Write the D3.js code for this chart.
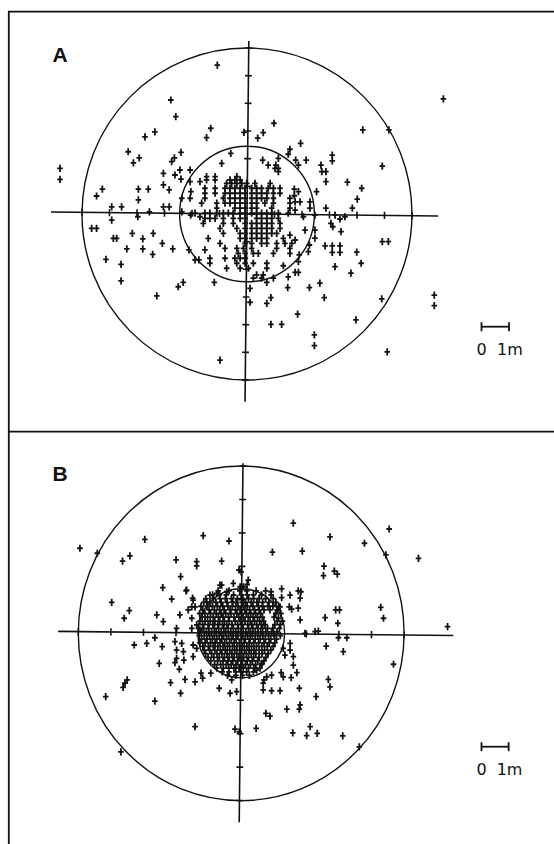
<!DOCTYPE html>
<html>
<head>
<meta charset="utf-8">
<script src="https://cdn.jsdelivr.net/npm/d3@7"></script>
<style>
  body { margin: 0; background: #fff; }
  svg { display: block; }
  .frame { stroke: #111; stroke-width: 1.8; fill: none; }
  .ring { fill: none; stroke: #111; stroke-width: 1.4; }
  .axis, .tick { stroke: #111; stroke-width: 1.6; }
  .pt { stroke: #111; stroke-width: 1.8; fill: none; }
  .bar { stroke: #111; stroke-width: 1.8; }
  .lbl { font-family: "Liberation Sans", Arial, sans-serif; font-weight: bold; font-size: 21px; fill: #111; }
  .scl { font-family: "DejaVu Sans", sans-serif; font-size: 16px; fill: #111; }
</style>
</head>
<body>
<svg id="chart" width="554" height="844"></svg>
<script>
// radii in metres
var outerRadius = 6
var innerRadiusA = 2.45
var innerRadiusB = 1.6

// tick positions along the two axes (m)
var ticksA = [-6, -5, -4, -3, -2, -1, 1, 2, 3, 4, 5, 6]
var ticksB = [-6, -4.8, -3.6, -2.4, -1.2, 1.2, 2.4, 3.6, 4.8, 6]

// A: individual positions [x, y] in metres
var pointsA = [
  [-1.08,5.38],[-2.77,4.12],[-2.59,3.52],[-3.71,2.79],[-3.35,2.97],[-1.32,3.10],[-1.47,2.76],[-0.11,2.95],
  [-4.32,2.25],[-4.13,1.85],[-3.92,2.03],[-6.80,1.65],[-6.80,1.25],[-5.47,0.65],[-5.26,0.90],[-4.92,0.26],
  [-4.56,0.26],[-3.95,0.90],[-3.59,0.90],[-3.95,0.51],[-4.92,-0.22],[-3.97,-0.10],[-3.55,0.08],[-3.04,1.47],
  [-2.74,1.89],[-2.64,2.03],[-2.40,2.23],[-2.62,1.41],[-2.44,1.59],[-2.07,1.59],[-2.40,1.26],[-3.04,1.05],
  [-2.83,0.87],[-2.07,1.17],[-2.04,0.81],[-2.37,0.57],[-2.07,0.57],[-3.04,0.26],[-2.83,0.26],[-2.37,0.08],
  [-2.05,-0.04],[-0.92,1.83],[-0.59,2.19],[-1.71,1.17],[-1.65,0.39],[-1.71,-0.10],[-1.89,0.03],[-1.59,-0.34],
  [7.14,4.16],[0.98,3.28],[0.39,2.74],[0.59,2.94],[1.95,2.55],[4.21,3.04],[5.16,3.04],[1.56,2.34],
  [1.50,2.16],[1.77,1.95],[1.87,1.77],[2.15,1.95],[3.10,2.13],[3.10,1.92],[2.69,1.77],[2.72,1.53],
  [2.87,1.53],[2.87,1.17],[3.65,1.15],[4.92,1.73],[4.17,0.93],[4.01,0.54],[3.83,0.21],[2.87,0.21],
  [2.53,0.81],[3.20,-0.04],[3.38,-0.18],[3.56,-0.10],[3.05,-0.34],[0.57,1.95],[0.77,1.77],[1.05,1.77],
  [1.14,2.01],[1.72,0.90],[1.87,0.81],[1.72,0.66],[1.75,0.44],[1.93,0.44],[1.75,0.14],[2.29,0.44],
  [2.29,0.21],[2.47,-0.04],[2.05,-0.10],
  [-5.65,-0.52],[-5.47,-0.52],[-4.86,-0.88],[-4.74,-0.88],[-4.17,-0.70],[-3.79,-0.90],[-3.41,-0.70],[-4.37,-1.26],
  [-3.79,-1.26],[-3.43,-1.46],[-3.08,-1.06],[-2.70,-1.26],[-5.13,-1.64],[-4.58,-1.82],[-4.58,-2.42],[-3.28,-2.96],
  [-2.50,-2.63],[-2.32,-2.47],[-2.11,-1.30],[-1.53,-1.30],[-1.89,-1.66],[-1.75,-1.66],[-1.19,-2.47],[-0.98,-5.28],
  [4.92,-1.00],[5.14,-1.00],[3.99,-1.38],[4.15,-1.78],[3.78,-2.14],[3.20,-1.90],[2.84,-1.15],[3.10,-1.15],
  [3.38,-1.15],[3.10,-1.39],[3.38,-1.39],[2.65,-2.50],[2.27,-2.66],[2.81,-3.02],[1.48,-2.66],[1.84,-3.62],
  [0.87,-3.99],[1.26,-3.99],[2.45,-4.37],[2.45,-4.76],[3.96,-3.83],[4.90,-3.07],[5.10,-4.98],[6.81,-2.93],
  [6.81,-3.31],[0.72,-3.23],[0.87,-3.02],[0.11,-3.19],[1.50,-2.27],[1.75,-2.11],[1.87,-2.11],[0.72,-2.47],
  [0.11,-2.69],[2.11,-0.58],[2.47,-0.58],[3.12,-0.46],[3.42,-0.64],[2.27,-1.12],[2.23,-1.36],[1.90,-1.48],
  [1.87,-1.72],[1.75,-0.94],[1.56,-0.76],[1.32,-1.87],[2.47,-0.87]
]

// A: dense centre, read row by row  [y, [x, x, ...]]
var gridA = [
  [1.65, [1.02, 1.14]],
  [1.53, [1.14]],
  [1.35, [-1.47, -1.16, -0.37]],
  [1.23, [-1.47, -1.16, -0.62, -0.44, -0.25]],
  [1.11, [-0.74, -0.56, -0.37, -0.19, -0.01, 0.29, 0.84]],
  [0.93, [-1.53, -1.16, -0.80, -0.62, -0.44, -0.25, -0.07, 0.17, 0.35, 0.53, 0.77, 0.96, 1.20]],
  [0.75, [-1.53, -1.16, -0.80, -0.62, -0.44, -0.25, -0.07, 0.17, 0.35, 0.53, 0.72, 0.96, 1.20]],
  [0.57, [-1.53, -0.86, -0.62, -0.44, -0.25, -0.07, 0.17, 0.35, 0.53, 0.72, 0.96, 1.56]],
  [0.39, [-1.10, -0.80, -0.62, -0.44, -0.25, -0.07, 0.17, 0.35, 0.65, 0.96, 1.56]],
  [0.21, [-1.10, -0.44, -0.25, -0.07, 0.17, 0.35, 0.90, 1.56]],
  [0.03, [-1.53, -1.35, -1.10, -0.86, -0.68, -0.50, -0.25, -0.07, 0.17, 0.35, 0.53, 0.72, 0.90, 1.14, 1.50]],
  [-0.16, [-1.53, -1.35, -1.16, -0.86, -0.50, -0.25, -0.07, 0.35, 0.53, 0.72, 0.90, 1.14]],
  [-0.34, [-0.86, -0.50, -0.07, 0.17, 0.35, 0.53, 0.72, 0.90, 1.20]],
  [-0.52, [-0.98, -0.37, -0.07, 0.17, 0.35, 0.53, 0.72, 0.90, 1.20]],
  [-0.70, [-0.86, -0.25, -0.07, 0.17, 0.35, 0.53, 0.72, 0.90, 1.08]],
  [-0.88, [-1.41, -0.25, -0.07, 0.17, 0.35, 0.53, 0.72, 1.32]],
  [-1.06, [-0.98, -0.07, 0.17, 0.53, 0.72, 1.08, 1.38, 1.63]],
  [-1.24, [-0.80, -0.37, -0.13, 0.17, 1.08, 1.56]],
  [-1.42, [-0.32, -0.07, 0.23, 0.41, 0.96, 1.56]],
  [-1.60, [-1.35, -0.80, -0.44, -0.25, -0.07]],
  [-1.78, [-1.35, -0.37, -0.07, 0.23, 0.72]],
  [-1.96, [-0.74, -0.25, 0.05, 0.72]],
  [-2.20, [0.35, 0.59]],
  [-2.32, [0.23, 0.53, 0.96]]
]

// B: individual positions [x, y] in metres
var pointsB = [
  [-5.94,3.05],[-5.30,2.87],[-3.55,3.37],[-1.40,3.50],[-0.45,3.31],[-4.37,2.59],[-4.10,2.78],[-2.40,2.63],
  [-1.64,2.57],[-1.64,2.42],[-0.72,2.59],[-2.23,2.03],[-0.08,2.27],[-2.89,1.64],[-2.56,1.23],[-2.03,1.52],
  [-0.72,1.73],[-4.77,1.11],[-4.12,0.81],[-4.31,0.54],[-3.11,0.66],[-2.87,0.42],[-2.38,0.18],[-2.26,0.66],
  [-1.79,1.26],[-1.70,0.95],[-1.95,0.84],[-1.27,1.13],[-1.15,1.37],[-0.90,1.43],[-0.53,1.49],[-0.04,1.67],
  [-3.18,-0.16],[-2.01,1.55],[-1.77,1.19],[-1.82,0.95],[-0.78,1.73],[-0.29,1.79],[-1.82,0.54],[-1.64,0.30],
  [-1.52,0.12],[-1.82,0.18],
  [1.92,3.95],[3.27,3.46],[1.15,2.91],[2.25,2.95],[4.54,3.23],[5.45,3.74],[5.33,2.81],[6.53,2.69],
  [3.05,2.41],[3.03,2.07],[3.43,2.23],[3.54,2.12],[5.14,0.93],[5.24,0.54],[3.48,0.84],[3.62,0.84],
  [3.56,0.36],[3.09,0.56],[7.60,0.24],[0.26,1.91],[1.49,1.59],[1.10,1.49],[2.10,1.52],[2.20,1.49],
  [2.17,1.26],[1.80,1.37],[1.49,1.28],[1.77,0.95],[1.86,0.87],[2.10,0.90],[2.17,0.48],[1.43,0.95],
  [1.37,0.54],[2.35,0.00],[2.72,0.06],[2.84,0.08],[3.58,-0.16],[3.89,-0.16],[0.00,2.20],[0.22,1.75],
  [0.08,1.67],
  [-3.94,-0.42],[-3.48,-0.36],[-2.91,-0.48],[-3.02,-1.08],[-2.44,-0.30],[-2.19,-0.36],[-2.38,-0.60],[-2.13,-0.66],
  [-2.38,-0.90],[-2.11,-0.96],[-2.44,-1.05],[-2.28,-1.29],[-1.77,-0.42],[-1.64,-0.54],[-1.77,-0.84],[-2.60,-1.77],
  [-2.07,-1.65],[-1.70,-1.74],[-1.48,-1.43],[-1.42,-1.61],[-1.12,-1.43],[-2.23,-2.15],[-0.81,-1.97],[-0.41,-2.15],
  [-0.17,-2.09],[-0.35,-1.67],[-4.28,-1.79],[-4.20,-1.67],[-4.35,-1.94],[-4.99,-2.27],[-3.18,-2.43],[-1.70,-3.35],
  [-0.23,-3.44],[-0.07,-3.53],[-4.43,-4.25],
  [3.13,-0.46],[3.76,-0.66],[5.61,-1.11],[3.21,-1.65],[3.27,-1.92],[2.76,-2.27],[2.14,-1.97],[2.17,-2.57],
  [2.14,-2.72],[1.68,-2.72],[0.91,-2.87],[1.06,-2.97],[0.55,-3.41],[1.90,-3.57],[2.54,-3.35],[2.41,-3.67],
  [2.80,-3.59],[3.74,-3.68],[4.35,-4.07],[0.84,-1.67],[0.94,-1.56],[1.12,-1.50],[1.47,-1.41],[1.55,-1.56],
  [1.84,-1.59],[2.05,-1.41],[1.92,-1.14],[1.92,-0.84],[1.80,-0.60],[1.80,-0.36],[0.81,-2.03],[1.12,-2.06],
  [1.43,-2.06],[0.81,-1.79],[1.61,-0.78],[1.55,-0.54],[0.57,-1.32],[0.76,-1.08]
]

// B: dense core inside the inner ring, read row by row  [y, [x, x, ...]]
var coreB = [
  [1.52, [-0.85, -0.45, -0.05, 0.20, 0.55, 0.90]],
  [1.38, [-1.05, -0.80, -0.55, -0.28, 0.00, 0.22, 0.45, 0.75, 1.10]],
  [1.24, [-1.30, -1.02, -0.78, -0.58, -0.36, -0.14, 0.06, 0.27, 0.46, 0.66, 0.90, 1.18]],
  [1.11, [-1.38, -1.15, -0.93, -0.74, -0.52, -0.31, -0.19, 0.03, 0.16, 0.37, 0.58, 0.79, 1.02, 1.28]],
  [0.97, [-1.48, -1.26, -1.06, -0.88, -0.68, -0.49, -0.33, -0.12, 0.08, 0.22, 0.43, 0.63, 0.78, 0.98, 1.17, 1.38]],
  [0.84, [-1.42, -1.18, -0.99, -0.79, -0.63, -0.41, -0.21, -0.04, 0.14, 0.31, 0.49, 0.66, 0.84, 1.06, 1.32]],
  [0.71, [-1.53, -1.34, -1.13, -0.92, -0.74, -0.57, -0.38, -0.16, 0.02, 0.19, 0.35, 0.53, 0.71, 1.27, 1.46]],
  [0.58, [-1.44, -1.24, -1.03, -0.84, -0.67, -0.47, -0.27, -0.09, 0.07, 0.26, 0.44, 0.60, 0.78, 1.21]],
  [0.44, [-1.52, -1.33, -1.14, -0.97, -0.79, -0.62, -0.44, -0.22, -0.03, 0.14, 0.33, 0.49, 0.68, 0.83, 1.33, 1.52]],
  [0.31, [-1.42, -1.22, -1.04, -0.86, -0.69, -0.53, -0.34, -0.13, 0.04, 0.24, 0.39, 0.57, 0.74, 0.88, 1.24, 1.44]],
  [0.18, [-1.57, -1.38, -1.19, -0.99, -0.83, -0.64, -0.48, -0.29, -0.11, 0.07, 0.27, 0.43, 0.62, 0.79, 0.97, 1.17, 1.41]],
  [0.05, [-1.47, -1.28, -1.09, -0.92, -0.74, -0.57, -0.38, -0.20, -0.02, 0.17, 0.34, 0.52, 0.72, 0.91, 1.12, 1.32]],
  [-0.08, [-1.55, -1.36, -1.16, -0.99, -0.81, -0.65, -0.46, -0.30, -0.12, 0.06, 0.24, 0.41, 0.61, 0.80, 1.01, 1.22, 1.44]],
  [-0.21, [-1.46, -1.26, -1.06, -0.90, -0.71, -0.54, -0.36, -0.19, 0.01, 0.15, 0.33, 0.51, 0.70, 0.89, 1.09, 1.30]],
  [-0.34, [-1.52, -1.33, -1.13, -0.96, -0.78, -0.61, -0.43, -0.26, -0.07, 0.11, 0.29, 0.46, 0.64, 0.84, 1.03, 1.24]],
  [-0.47, [-1.41, -1.21, -1.03, -0.86, -0.67, -0.51, -0.32, -0.16, 0.04, 0.21, 0.38, 0.56, 0.76, 0.96, 1.18]],
  [-0.60, [-1.36, -1.16, -0.97, -0.77, -0.59, -0.42, -0.24, -0.06, 0.12, 0.29, 0.47, 0.66, 0.86, 1.09]],
  [-0.73, [-1.31, -1.09, -0.89, -0.71, -0.52, -0.34, -0.16, 0.02, 0.19, 0.37, 0.54, 0.77, 0.99]],
  [-0.86, [-1.22, -1.01, -0.81, -0.62, -0.44, -0.26, -0.08, 0.09, 0.27, 0.46, 0.66, 0.91]],
  [-0.99, [-1.12, -0.87, -0.67, -0.49, -0.31, -0.13, 0.04, 0.22, 0.41, 0.61, 0.84]],
  [-1.12, [-0.98, -0.76, -0.55, -0.37, -0.19, 0.00, 0.16, 0.34, 0.53, 0.75]],
  [-1.25, [-0.90, -0.66, -0.46, -0.27, -0.08, 0.08, 0.27, 0.47, 0.69]],
  [-1.38, [-0.70, -0.45, -0.20, 0.00, 0.20, 0.45]],
  [-1.51, [-0.50, -0.20, 0.05, 0.30]]
]

var svg = d3.select("#chart")

// outer frame: top edge, left edge and the rule between the panels
svg.append("path").attr("class", "frame")
  .attr("d", "M554,11.7H8.8V844M8.8,431.7H554")

function rowsToPoints(rows){
  var out = []
  rows.forEach(function(r){
    r[1].forEach(function(x){ out.push([x, r[0]]) })
  })
  return out
}

function plus(px, py){
  return "M" + (px - 2.8) + "," + py + "h5.6M" + px + "," + (py - 3.6) + "v7.2"
}

function drawPanel(p){
  var x = d3.scaleLinear().domain([-outerRadius, outerRadius]).range(p.xRange)
  var y = d3.scaleLinear().domain([-outerRadius, outerRadius]).range(p.yRange)
  var cx = x(0), cy = y(0)
  var g = svg.append("g")

  // the two rings
  g.selectAll("ellipse.ring")
      .data([outerRadius, p.inner])
    .join("ellipse")
      .attr("class", "ring")
      .attr("cx", cx).attr("cy", cy)
      .attr("rx", d => x(d) - cx)
      .attr("ry", d => cy - y(d))

  // cross axes, slightly rotated as in the drawing
  var ax = g.append("g").attr("transform", "rotate(" + p.tilt + "," + cx + "," + cy + ")")
  ax.append("line").attr("class", "axis")
      .attr("x1", x(p.hExtent[0])).attr("x2", x(p.hExtent[1]))
      .attr("y1", cy).attr("y2", cy)
  ax.append("line").attr("class", "axis")
      .attr("x1", cx).attr("x2", cx)
      .attr("y1", y(p.vExtent[1])).attr("y2", y(p.vExtent[0]))

  ax.selectAll("line.tx")
      .data(p.ticks)
    .join("line")
      .attr("class", "tick tx")
      .attr("x1", d => x(d)).attr("x2", d => x(d))
      .attr("y1", cy - 3.6).attr("y2", cy + 3.6)
  ax.selectAll("line.ty")
      .data(p.ticks)
    .join("line")
      .attr("class", "tick ty")
      .attr("y1", d => y(d)).attr("y2", d => y(d))
      .attr("x1", cx - 3.4).attr("x2", cx + 3.4)

  // the points
  var pts = p.points.concat(rowsToPoints(p.rows))
  g.selectAll("path.pt")
      .data(pts)
    .join("path")
      .attr("class", "pt")
      .attr("d", d => plus(x(d[0]), y(d[1])))

  // panel letter
  g.append("text").attr("class", "lbl")
      .attr("x", 52.5).attr("y", p.labelY)
      .text(p.label)

  // scale bar 0 - 1 m
  var len = x(1) - x(0)
  var sb = g.append("g").attr("transform", "translate(481.5," + p.barY + ")")
  sb.append("line").attr("class", "bar").attr("x1", 0).attr("x2", len).attr("y1", 0).attr("y2", 0)
  sb.append("line").attr("class", "bar").attr("x1", 0).attr("x2", 0).attr("y1", -4.5).attr("y2", 4.5)
  sb.append("line").attr("class", "bar").attr("x1", len).attr("x2", len).attr("y1", -4.5).attr("y2", 4.5)
  sb.append("text").attr("class", "scl").attr("x", 0).attr("y", 28).attr("text-anchor", "middle").text("0")
  sb.append("text").attr("class", "scl").attr("x", len - 12).attr("y", 28).text("1m")
}

drawPanel({
  label: "A", labelY: 61.5,
  xRange: [82, 412], yRange: [380, 48],
  inner: innerRadiusA, ticks: ticksA,
  hExtent: [-7.13, 6.95], vExtent: [-6.79, 6.25],
  tilt: 0.6,
  points: pointsA, rows: gridA,
  barY: 326.7
})

drawPanel({
  label: "B", labelY: 480.5,
  xRange: [78.3, 404.1], yRange: [800.6, 466],
  inner: innerRadiusB, ticks: ticksB,
  hExtent: [-6.74, 7.81], vExtent: [-6.78, 6.1],
  tilt: 0.6,
  points: pointsB, rows: coreB,
  barY: 746.7
})
</script>
</body>
</html>
